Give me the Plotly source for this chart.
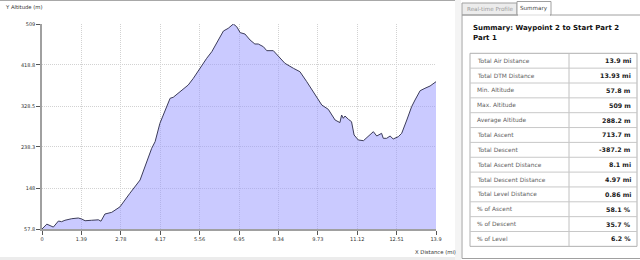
import plotly.graph_objects as go

# ---------------- data ----------------
distance_mi = [0, 0.17, 0.40, 0.58, 0.69, 0.81, 1.05, 1.28, 1.40, 1.52, 1.75, 1.99, 2.08, 2.22, 2.46,
               2.75, 3.10, 3.46, 3.87, 3.99, 4.16, 4.34, 4.52, 4.63, 4.93, 5.04, 5.16, 5.34, 5.57, 5.81,
               5.99, 6.22, 6.40, 6.57, 6.75, 6.87, 6.99, 7.16, 7.34, 7.51, 7.63, 7.81, 7.93, 8.16, 8.34,
               8.57, 8.87, 9.10, 9.34, 9.63, 9.87, 10.10, 10.34, 10.51, 10.57, 10.63, 10.69, 10.81, 10.92,
               11.01, 11.16, 11.34, 11.51, 11.69, 11.81, 11.98, 12.04, 12.16, 12.28, 12.39, 12.57, 12.69,
               12.87, 13.04, 13.16, 13.34, 13.51, 13.69, 13.90]
altitude_m = [57.8, 68.5, 62, 75.4, 73.9, 77, 80.5, 82, 79.8, 76, 77, 78, 75, 90.8, 94.5,
              106.5, 136.4, 165.6, 235.4, 250, 290.4, 319.7, 345.5, 347.7, 362.3, 367.5, 374.8, 389.5, 411.5, 433.5,
              448, 473.8, 493.6, 499.5, 509, 503, 490, 487, 473.8, 465, 465, 459, 450.3, 450.3, 438.6,
              422.5, 411.5, 404, 382, 352.7, 330.7, 321.2, 297.7, 292, 308.7, 301.4, 306.5, 299.2, 294,
              264.7, 253.7, 252.2, 261, 272, 262.5, 268.4, 257.4, 257.4, 262.5, 255.9, 261, 268.4,
              297.7, 327, 341.7, 362.2, 367.5, 372.5, 382]

x_ticks = [0, 1.39, 2.78, 4.17, 5.56, 6.95, 8.34, 9.73, 11.12, 12.51, 13.9]
y_ticks = [57.8, 148, 238.3, 328.5, 418.8, 509]

summary_title = ["Summary: Waypoint 2 to Start Part 2", "Part 1"]
summary_labels = ["Total Air Distance", "Total DTM Distance", "Min. Altitude", "Max. Altitude",
                  "Average Altitude", "Total Ascent", "Total Descent", "Total Ascent Distance",
                  "Total Descent Distance", "Total Level Distance", "% of Ascent", "% of Descent",
                  "% of Level"]
summary_values = ["13.9 mi", "13.93 mi", "57.8 m", "509 m", "288.2 m", "713.7 m", "-387.2 m",
                  "8.1 mi", "4.97 mi", "0.86 mi", "58.1 %", "35.7 %", "6.2 %"]
tab_names = ["Real-time Profile", "Summary"]

# ---------------- layout geometry (pixels) ----------------
W, H = 640, 260
L, R, T, B = 42, 436, 24, 229


def px(x):
    return (x - L) / (R - L)


def py(y):
    return (B - y) / (B - T)


FONT = "DejaVu Sans"

fig = go.Figure()
fig.add_trace(go.Scatter(
    x=distance_mi, y=altitude_m, mode="lines",
    line=dict(color="#3c3c5a", width=1),
    fill="tozeroy", fillcolor="rgba(150,150,255,0.5)",
    hoverinfo="skip", showlegend=False,
))

shapes = []
annotations = []

# left panel frame
shapes.append(dict(type="line", xref="paper", yref="paper", x0=px(0), x1=px(460), y0=py(0.5), y1=py(0.5),
                   line=dict(color="#a8a8a8", width=1)))
shapes.append(dict(type="rect", xref="paper", yref="paper", x0=px(0), x1=px(460), y0=py(257), y1=py(261),
                   fillcolor="#ececec", line=dict(width=0)))
shapes.append(dict(type="rect", xref="paper", yref="paper", x0=px(455), x1=px(461), y0=py(0), y1=py(261),
                   fillcolor="#f4f4f4", line=dict(width=0)))

# axis titles
annotations.append(dict(text="Y Altitude (m)", xref="paper", yref="paper", x=px(3), y=py(7),
                        xanchor="left", yanchor="middle", showarrow=False,
                        font=dict(family=FONT, size=5.3, color="#333")))
annotations.append(dict(text="X Distance (mi)", xref="paper", yref="paper", x=px(458), y=py(252),
                        xanchor="right", yanchor="middle", showarrow=False,
                        font=dict(family=FONT, size=5.3, color="#333")))

# right panel: tabs
tab_x = [(462, 517), (517, 551)]
for i, name in enumerate(tab_names):
    x0, x1 = tab_x[i]
    active = (name == "Summary")
    shapes.append(dict(type="rect", xref="paper", yref="paper", x0=px(x0), x1=px(x1),
                       y0=py(15), y1=py(1.5 if active else 3),
                       fillcolor="#ffffff" if active else "#ececec",
                       line=dict(color="#a0a0a0", width=1)))
    annotations.append(dict(text=name, xref="paper", yref="paper", x=px((x0 + x1) / 2), y=py(9),
                            xanchor="center", yanchor="middle", showarrow=False,
                            font=dict(family=FONT, size=5.6, color="#444" if active else "#9a9a9a")))

# panel box
shapes.append(dict(type="rect", xref="paper", yref="paper", x0=px(462), x1=px(645), y0=py(15), y1=py(258.5),
                   fillcolor="rgba(0,0,0,0)", line=dict(color="#a0a0a0", width=1)))
# cover the line under the active tab
shapes.append(dict(type="line", xref="paper", yref="paper", x0=px(518), x1=px(550), y0=py(15), y1=py(15),
                   line=dict(color="#ffffff", width=1.5)))

# title
annotations.append(dict(text="<b>" + summary_title[0] + "</b>", xref="paper", yref="paper", x=px(471), y=py(28),
                        xanchor="left", yanchor="middle", showarrow=False,
                        font=dict(family=FONT, size=7, color="#111")))
annotations.append(dict(text="<b>" + summary_title[1] + "</b>", xref="paper", yref="paper", x=px(471), y=py(38),
                        xanchor="left", yanchor="middle", showarrow=False,
                        font=dict(family=FONT, size=7, color="#111")))

# table
tx0, tmid, tx1 = 470, 569, 637
ty0, rh = 53.3, 14.85
n = len(summary_labels)
shapes.append(dict(type="rect", xref="paper", yref="paper", x0=px(tx0), x1=px(tx1),
                   y0=py(ty0), y1=py(ty0 + n * rh), line=dict(color="#b0b0b0", width=1)))
shapes.append(dict(type="line", xref="paper", yref="paper", x0=px(tmid), x1=px(tmid),
                   y0=py(ty0), y1=py(ty0 + n * rh), line=dict(color="#c0c0c0", width=1)))
for i, (lab, val) in enumerate(zip(summary_labels, summary_values)):
    yc = ty0 + (i + 0.5) * rh
    if i > 0:
        shapes.append(dict(type="line", xref="paper", yref="paper", x0=px(tx0), x1=px(tx1),
                           y0=py(ty0 + i * rh), y1=py(ty0 + i * rh), line=dict(color="#c8c8c8", width=1)))
    annotations.append(dict(text=lab, xref="paper", yref="paper", x=px(tx0 + 5), y=py(yc),
                            xanchor="left", yanchor="middle", showarrow=False,
                            font=dict(family=FONT, size=5.9, color="#606060")))
    annotations.append(dict(text="<b>" + val + "</b>", xref="paper", yref="paper", x=px(tx1 - 4), y=py(yc),
                            xanchor="right", yanchor="middle", showarrow=False,
                            font=dict(family=FONT, size=6.3, color="#1a1a1a")))

fig.update_layout(
    width=W, height=H,
    margin=dict(l=L, r=W - R, t=T, b=H - B, pad=0),
    paper_bgcolor="#ffffff", plot_bgcolor="#ffffff",
    showlegend=False,
    shapes=shapes, annotations=annotations,
    xaxis=dict(range=[0, 13.9], tickvals=x_ticks, ticktext=[f"{v:g}" for v in x_ticks],
               showgrid=True, gridcolor="#d2d2d2", griddash="1px,1px", gridwidth=1,
               showline=True, linecolor="#a0a0a0", linewidth=1.5,
               ticks="outside", ticklen=4, tickcolor="#555", tickwidth=1,
               tickfont=dict(family=FONT, size=5, color="#333"), zeroline=False, fixedrange=True),
    yaxis=dict(range=[57.8, 509], tickvals=y_ticks, ticktext=[f"{v:g}" for v in y_ticks],
               showgrid=True, gridcolor="#d2d2d2", griddash="1px,1px", gridwidth=1,
               showline=True, linecolor="#a0a0a0", linewidth=1.5,
               ticks="outside", ticklen=4, tickcolor="#555", tickwidth=1,
               tickfont=dict(family=FONT, size=5, color="#333"), zeroline=False, fixedrange=True),
)

fig.write_html("out.html")
